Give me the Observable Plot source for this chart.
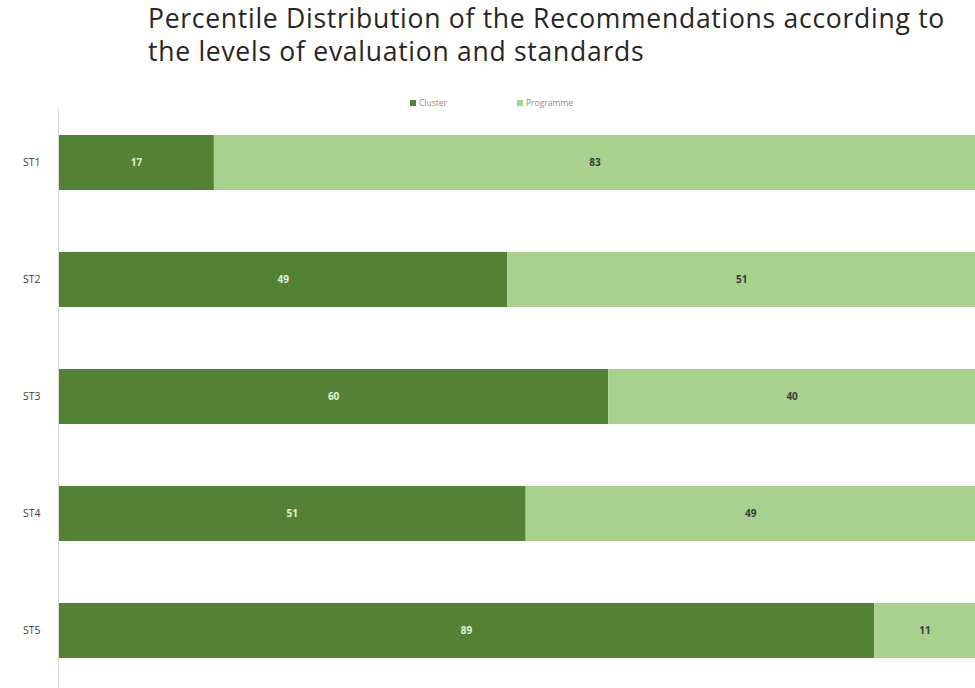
<!DOCTYPE html>
<html>
<head>
<meta charset="utf-8">
<script src="https://cdn.jsdelivr.net/npm/d3@7"></script>
<script src="https://cdn.jsdelivr.net/npm/@observablehq/plot@0.6"></script>
<style>
  html, body { margin: 0; padding: 0; background: #fff; }
  #wrap { position: relative; width: 975px; height: 688px; overflow: hidden; }
  #title { position: absolute; left: 148px; top: 2px; font-family: "Open Sans", sans-serif; font-size: 26.5px; line-height: 33px; color: #262626; white-space: nowrap; }
  #title span { display: block; }
  #legend { position: absolute; top: 97px; left: 0; width: 975px; height: 12px; font-family: "Open Sans", sans-serif; font-size: 8.5px; color: #8c8c8c; }
  #legend span.item { position: absolute; top: 0; display: flex; align-items: center; gap: 3px; }
  #legend i { display: inline-block; width: 6px; height: 6px; }
  #chart { position: absolute; left: 0; top: 100px; }
</style>
</head>
<body>
<div id="wrap">
  <div id="title"><span id="t1">Percentile Distribution of the Recommendations according to</span><span id="t2">the levels of evaluation and standards</span></div>
  <div id="legend"></div>
  <div id="chart"></div>
</div>
<script>
const standards = ["ST1", "ST2", "ST3", "ST4", "ST5"];
const series = ["Cluster", "Programme"];
const clusterValues = [17, 49, 60, 51, 89];
const programmeValues = [83, 51, 40, 49, 11];
const colors = ["#548235", "#a9d18e"];
const labelColors = ["#e2efda", "#3a3a3a"];

const data = [];
standards.forEach((st, i) => {
  data.push({st, series: series[0], value: clusterValues[i]});
  data.push({st, series: series[1], value: programmeValues[i]});
});

// fit title width to the reference's line length
const t1 = document.getElementById("t1");
const t2 = document.getElementById("t2");
const w1 = t1.getBoundingClientRect().width;
const ls = (797 - w1) / t1.textContent.length;
t1.style.letterSpacing = ls + "px";
t2.style.letterSpacing = ls + "px";

// legend
const legend = document.getElementById("legend");
const legendPos = [410, 517];
series.forEach((s, i) => {
  const el = document.createElement("span");
  el.className = "item";
  el.style.left = legendPos[i] + "px";
  el.innerHTML = `<i style="background:${colors[i]}"></i>${s}`;
  legend.appendChild(el);
});

const chart = Plot.plot({
  width: 975,
  height: 588,
  marginTop: 4,
  marginBottom: 0,
  marginLeft: 58,
  marginRight: 0,
  x: {domain: [0, 100], axis: null},
  y: {domain: standards, paddingInner: 0.53, paddingOuter: 0.26, label: null, axis: null},
  color: {domain: series, range: colors},
  style: {fontFamily: "'Open Sans', sans-serif", fontSize: "11px", color: "#404040"},
  marks: [
    Plot.axisY({tickSize: 0, tickPadding: 18, fontSize: 10.5, fill: "#404040", label: null}),
    Plot.barX(data, Plot.stackX({x: "value", y: "st", fill: "series", order: series})),
    Plot.textX(data, Plot.stackX({
      x: "value", y: "st", z: "series", order: series, text: d => String(d.value),
      fill: d => labelColors[series.indexOf(d.series)],
      fontSize: 10, fontWeight: "bold"
    })),
    Plot.ruleX([0], {stroke: "#d9d9d9", y1: () => standards[0], y2: () => standards[4], insetTop: -26, insetBottom: -31})
  ]
});
document.getElementById("chart").appendChild(chart);
</script>
</body>
</html>
